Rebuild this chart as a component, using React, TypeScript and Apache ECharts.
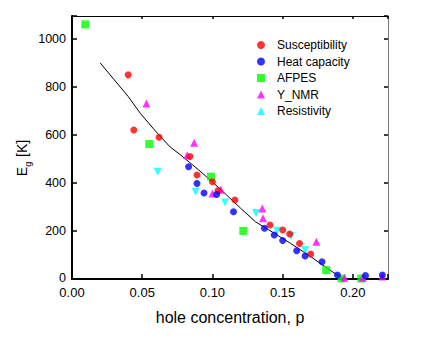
import React, { useEffect, useRef } from "react";
import * as echarts from "echarts";

const suscX = [0.040, 0.044, 0.062, 0.084, 0.089, 0.100, 0.104, 0.116, 0.141, 0.150, 0.155, 0.162, 0.170];
const suscY = [850, 620, 590, 510, 433, 405, 368, 329, 225, 204, 187, 148, 104];

const heatX = [0.083, 0.089, 0.094, 0.103, 0.115, 0.137, 0.144, 0.150, 0.160, 0.166, 0.178, 0.189, 0.209, 0.221];
const heatY = [467, 398, 358, 352, 280, 211, 183, 160, 118, 96, 72, 17, 14, 17];

const arpesX = [0.0095, 0.055, 0.099, 0.122, 0.181, 0.192, 0.206];
const arpesY = [1060, 562, 426, 200, 37, 2, 2];

const nmrX = [0.053, 0.082, 0.087, 0.100, 0.106, 0.1355, 0.136, 0.174, 0.194, 0.207, 0.221];
const nmrY = [731, 515, 567, 356, 372, 294, 253, 155, 5, 5, 10];

const resX = [0.061, 0.088, 0.109, 0.131, 0.146, 0.156, 0.166];
const resY = [447, 363, 318, 275, 201, 179, 121];

const fitX = [0.02, 0.03, 0.04, 0.0486, 0.06, 0.07, 0.077, 0.09, 0.10, 0.11, 0.12, 0.1307, 0.14, 0.15, 0.1557, 0.17, 0.18, 0.19, 0.194];
const fitY = [900, 830, 760, 690, 612, 549, 518, 455, 404, 350, 295, 238, 205, 169, 148, 93, 52, 12, 0];

const seriesNames = ["Susceptibility", "Heat capacity", "AFPES", "Y_NMR", "Resistivity"];

const xTicks = [0, 0.05, 0.1, 0.15, 0.2];
const yTicks = [0, 200, 400, 600, 800, 1000];

const zip = (xs: number[], ys: number[]) => xs.map((x, i) => [x, ys[i]]);

const FONT = "'Liberation Sans', Arial, sans-serif";

export default function App() {
  const ref = useRef<HTMLDivElement>(null);
  useEffect(() => {
    if (!ref.current) return;
    const chart = echarts.init(ref.current, undefined, { renderer: "svg" });
    const isTick = (v: number, arr: number[]) => arr.some((t) => Math.abs(t - v) < 1e-9);
    chart.setOption({
      animation: false,
      backgroundColor: "#ffffff",
      grid: { left: 72, right: 48, top: 16, bottom: 62, containLabel: false },
      legend: {
        orient: "vertical",
        left: 252,
        top: 33,
        itemWidth: 8,
        itemHeight: 8,
        itemGap: 2.5,
        data: seriesNames,
        textStyle: { fontFamily: FONT, fontSize: 12, color: "#000", padding: [0, 0, 0, 7], lineHeight: 14 },
      },
      xAxis: [
        {
          type: "value",
          min: 0,
          max: 0.225,
          interval: 0.05,
          position: "bottom",
          axisLine: { show: true, lineStyle: { color: "#000", width: 2 } },
          axisTick: { show: true, inside: true, length: 5, lineStyle: { color: "#000", width: 1.5 } },
          splitLine: { show: false },
          axisLabel: {
            margin: 7,
            fontFamily: FONT,
            fontSize: 13,
            lineHeight: 12,
            color: "#000",
            formatter: (v: number) => (isTick(v, xTicks) ? v.toFixed(2) : ""),
          },
        },
        {
          type: "value",
          min: 0,
          max: 0.225,
          interval: 0.05,
          position: "top",
          axisLine: { show: true, onZero: false, lineStyle: { color: "#000", width: 1 } },
          axisTick: { show: true, inside: true, length: 3, lineStyle: { color: "#000", width: 1.5 } },
          splitLine: { show: false },
          axisLabel: { show: false },
        },
      ],
      yAxis: [
        {
          type: "value",
          min: 0,
          max: 1095,
          interval: 200,
          position: "left",
          axisLine: { show: true, lineStyle: { color: "#000", width: 2 } },
          axisTick: { show: true, inside: true, length: 5, lineStyle: { color: "#000", width: 1.5 } },
          splitLine: { show: false },
          axisLabel: {
            margin: 6,
            fontFamily: FONT,
            fontSize: 12.5,
            lineHeight: 10,
            color: "#000",
            formatter: (v: number) => (v === 0 ? "{z|0}" : isTick(v, yTicks) ? String(v) : ""),
            rich: {
              z: { fontFamily: FONT, fontSize: 12.5, color: "#000", lineHeight: 10, padding: [0, 0, 3, 0] },
            },
          },
        },
        {
          type: "value",
          min: 0,
          max: 1095,
          interval: 200,
          position: "right",
          axisLine: { show: true, onZero: false, lineStyle: { color: "#777", width: 1 } },
          axisTick: { show: true, inside: true, length: 4, lineStyle: { color: "#000", width: 1.5 } },
          splitLine: { show: false },
          axisLabel: { show: false },
        },
      ],
      graphic: [
        {
          type: "text",
          x: 230,
          y: 317,
          style: {
            text: "hole concentration, p",
            fontFamily: FONT,
            fontSize: 16,
            fill: "#000",
            textAlign: "center",
            textVerticalAlign: "middle",
          },
        },
        {
          type: "text",
          x: 21,
          y: 158,
          rotation: Math.PI / 2,
          style: {
            text: "{e|E}{g|g}{e| [K]}",
            fontFamily: FONT,
            fill: "#000",
            textAlign: "center",
            textVerticalAlign: "middle",
            rich: {
              e: { fontFamily: FONT, fontSize: 14, fill: "#000", lineHeight: 16, verticalAlign: "bottom" },
              g: { fontFamily: FONT, fontSize: 9, fill: "#000", lineHeight: 16, verticalAlign: "bottom", padding: [0, 1, -3, 0] },
            },
          },
        },
      ],
      series: [
        {
          name: "Fit",
          type: "line",
          data: zip(fitX, fitY),
          showSymbol: false,
          symbol: "none",
          lineStyle: { color: "#000", width: 1 },
          z: 1,
          silent: true,
        },
        {
          name: "Susceptibility",
          type: "scatter",
          data: zip(suscX, suscY),
          symbol: "circle",
          symbolSize: 7,
          itemStyle: { color: "#ff0000" },
          z: 3,
        },
        {
          name: "Heat capacity",
          type: "scatter",
          data: zip(heatX, heatY),
          symbol: "circle",
          symbolSize: 7,
          itemStyle: { color: "#0000ff" },
          z: 3,
        },
        {
          name: "AFPES",
          type: "scatter",
          data: zip(arpesX, arpesY),
          symbol: "rect",
          symbolSize: 8,
          itemStyle: { color: "#00ff00" },
          z: 2,
        },
        {
          name: "Y_NMR",
          type: "scatter",
          data: zip(nmrX, nmrY),
          symbol: "triangle",
          symbolSize: 8,
          itemStyle: { color: "#ff00ff" },
          z: 2,
        },
        {
          name: "Resistivity",
          type: "scatter",
          data: zip(resX, resY),
          symbol: "triangle",
          symbolRotate: 180,
          symbolSize: 8,
          itemStyle: { color: "#00ffff" },
          z: 2,
        },
      ],
    });
    return () => chart.dispose();
  }, []);
  return (
    <div
      ref={ref}
      style={{ position: "absolute", left: 0, top: 0, width: 436, height: 341, background: "#fff" }}
    />
  );
}
